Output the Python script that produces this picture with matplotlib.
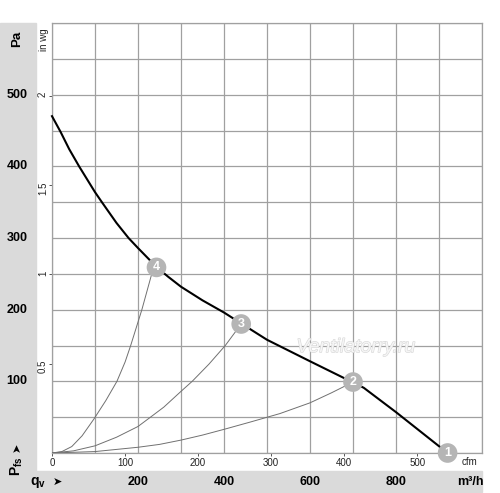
import matplotlib
matplotlib.use("Agg")
import matplotlib.pyplot as plt
import matplotlib.transforms as mtransforms
import matplotlib.patheffects as pe
from matplotlib.patches import Rectangle

plt.rcParams["font.family"] = ["Liberation Sans", "DejaVu Sans"]
plt.rcParams["mathtext.fontset"] = "custom"
plt.rcParams["mathtext.rm"] = "Liberation Sans"
plt.rcParams["mathtext.bf"] = "Liberation Sans:bold"

# fan curve, m3/h -> Pa
fan_q = [0, 20, 40, 63, 100, 116, 150, 178, 200, 244, 270, 300, 350, 400, 442,
         500, 600, 698, 725, 800, 920]
fan_pa = [470, 448, 424, 400, 364, 350, 321, 300, 286, 259, 246, 232, 213, 196, 180,
          158, 128, 99, 91, 57, 0]

# system curves
sys4_q = [0, 23, 46, 70, 97, 125, 151, 170, 183, 209, 232, 243]
sys4_pa = [0, 2, 9, 24, 47, 73, 100, 127, 150, 200, 250, 259]
sys3_q = [0, 50, 100, 150, 200, 229, 260, 300, 326, 365, 403, 440]
sys3_pa = [0, 3, 10, 22, 37, 50, 64, 86, 100, 124, 150, 180]
sys2_q = [0, 100, 200, 250, 300, 350, 400, 460, 530, 600, 650, 700]
sys2_pa = [0, 2, 8, 12, 18, 25, 33, 43, 55, 70, 84, 99]

# operating points
point_ids = ["1", "2", "3", "4"]
point_q = [920, 700, 440, 243]
point_pa = [0, 99, 180, 259]

pa_labels = [100, 200, 300, 400, 500]
m3h_labels = [200, 400, 600, 800]
inwg_ticks = [0.5, 1, 1.5, 2]
cfm_ticks = [0, 100, 200, 300, 400, 500]

W, H = 500, 493


def fx(px):
    return px / W


def fy(py):
    return 1 - py / H


fig = plt.figure(figsize=(5, 4.93), dpi=100)
band = "#dadada"
fig.patches.append(Rectangle((0, fy(493)), fx(36), fy(23) - fy(493),
                             transform=fig.transFigure, color=band, zorder=0))
fig.patches.append(Rectangle((0, fy(492)), fx(482), fy(471) - fy(492),
                             transform=fig.transFigure, color=band, zorder=0))

ax = fig.add_axes([fx(52), fy(453), fx(430), fy(23) - fy(453)])
ax.set_xlim(0, 1000)
ax.set_ylim(0, 600)
ax.set_xticks(range(0, 1001, 100))
ax.set_yticks(range(0, 601, 50))
ax.grid(True, color="#a0a0a0", lw=0.9)
ax.tick_params(length=0, labelbottom=False, labelleft=False)
for s in ax.spines.values():
    s.set_color("#a0a0a0")
    s.set_linewidth(0.9)

for qs, ps in [(sys4_q, sys4_pa), (sys3_q, sys3_pa), (sys2_q, sys2_pa)]:
    ax.plot(qs, ps, color="#707070", lw=0.7, zorder=3)
ax.plot(fan_q, fan_pa, color="black", lw=1.5, zorder=4, clip_on=False)

ax.scatter(point_q, point_pa, s=200, color="#b5b5b5", edgecolors="none",
           zorder=5, clip_on=False)
for name, q, p in zip(point_ids, point_q, point_pa):
    ax.text(q, p, name, color="white", fontsize=9, fontweight="bold",
            ha="center", va="center", zorder=6)

ax.text(0.707, 0.245, "Ventilatorry.ru", transform=ax.transAxes, fontsize=14,
        style="italic", color="#f5f5f5", ha="center", va="center", zorder=2,
        path_effects=[pe.withStroke(linewidth=0.8, foreground="#d6d6d6")])

# in wg scale
secy = ax.secondary_yaxis("left", functions=(lambda p: p / 249.09, lambda w: w * 249.09))
secy.set_yticks(inwg_ticks)
secy.set_yticklabels(["0.5", "1", "1.5", "2"])
secy.tick_params(labelsize=7, length=2.5, width=0.7, color="#555555", pad=0.5,
                 labelrotation=90, labelcolor="#222222")
secy.spines["left"].set_visible(False)

# cfm scale
secx = ax.secondary_xaxis("bottom", functions=(lambda q: q / 1.699, lambda c: c * 1.699))
secx.set_xticks(cfm_ticks)
secx.tick_params(labelsize=7, length=2, width=0.7, color="#555555", pad=1.5,
                 labelcolor="#222222")
secx.spines["bottom"].set_visible(False)

fig.text(fx(469), fy(462), "cfm", fontsize=7, ha="center", va="center", color="#222222")
fig.text(fx(44), fy(40), "in wg", fontsize=7, rotation=90, ha="center", va="center",
         color="#222222")

# Pa labels in the left band
ty = mtransforms.blended_transform_factory(fig.transFigure, ax.transData)
for v in pa_labels:
    fig.text(fx(17), v, str(v), transform=ty, fontsize=9, fontweight="bold",
             ha="center", va="center")
fig.text(fx(17), fy(39), "Pa", fontsize=9.5, fontweight="bold", rotation=90,
         ha="center", va="center")
fig.text(fx(17), fy(466), r"$\mathbf{P}_{\mathbf{fs}}$", fontsize=10, rotation=90,
         ha="center", va="center")
fig.text(fx(17), fy(447), "➤", family=["DejaVu Sans"], fontsize=8, rotation=90,
         ha="center", va="center")

# m3/h labels in the bottom band
tx = mtransforms.blended_transform_factory(ax.transData, fig.transFigure)
for v in m3h_labels:
    fig.text(v, fy(482), str(v), transform=tx, fontsize=9, fontweight="bold",
             ha="center", va="center")
fig.text(fx(470), fy(482), "m³/h", fontsize=9, fontweight="bold", ha="center", va="center")
fig.text(fx(38), fy(482), r"$\mathbf{q}_{\mathbf{v}}$", fontsize=10, ha="center", va="center")
fig.text(fx(57), fy(482), "➤", family=["DejaVu Sans"], fontsize=8, ha="center", va="center")

fig.savefig("out.png", dpi=100)
